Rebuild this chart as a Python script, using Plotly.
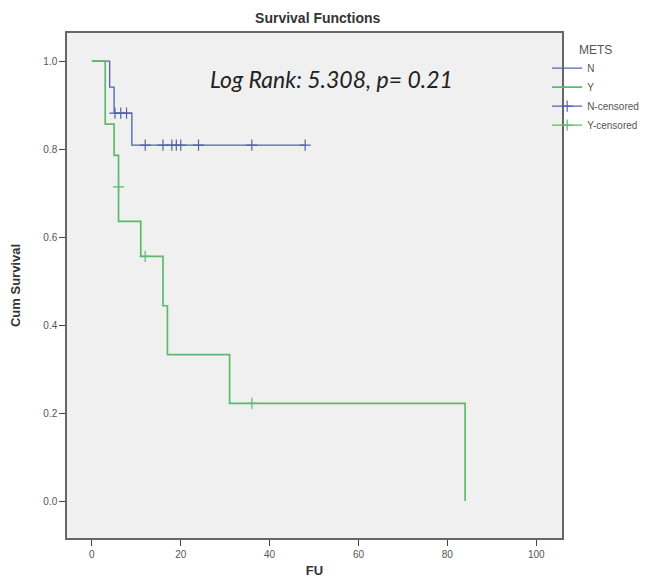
import plotly.graph_objects as go

# ---- data ----
n_time = [0, 4, 5, 9, 48]
n_surv = [1.0, 0.941, 0.882, 0.809, 0.809]
n_cens_time = [5.2, 6.5, 7.8, 12, 16, 18, 19, 20, 24, 36, 48]
n_cens_surv = [0.882, 0.882, 0.882, 0.809, 0.809, 0.809, 0.809, 0.809, 0.809, 0.809, 0.809]

y_time = [0, 3, 5, 6, 6, 11, 16, 17, 31, 84]
y_surv = [1.0, 0.857, 0.786, 0.714, 0.636, 0.556, 0.444, 0.333, 0.222, 0.0]
y_cens_time = [6, 12, 36]
y_cens_surv = [0.714, 0.556, 0.222]

x_ticks = [0, 20, 40, 60, 80, 100]
y_ticks = [0.0, 0.2, 0.4, 0.6, 0.8, 1.0]

BLUE = "#5262ae"
GREEN = "#5cba6a"
FONT = "Liberation Sans"


def gapped(vals):
    # put a gap between points so no connecting line is drawn (legend still shows line + marker)
    out = []
    for v in vals:
        out += [v, None]
    return out


fig = go.Figure()
fig.add_trace(go.Scatter(x=n_time, y=n_surv, mode="lines", line=dict(color=BLUE, width=1.3, shape="hv"), name="N"))
fig.add_trace(go.Scatter(x=y_time, y=y_surv, mode="lines", line=dict(color=GREEN, width=1.7, shape="hv"), name="Y"))
fig.add_trace(go.Scatter(x=gapped(n_cens_time), y=gapped(n_cens_surv), mode="lines+markers", connectgaps=False,
                         line=dict(color=BLUE, width=1.3),
                         marker=dict(symbol="cross-thin", size=8, line=dict(color=BLUE, width=1.2)), name="N-censored"))
fig.add_trace(go.Scatter(x=gapped(y_cens_time), y=gapped(y_cens_surv), mode="lines+markers", connectgaps=False,
                         line=dict(color=GREEN, width=1.3),
                         marker=dict(symbol="cross-thin", size=8, line=dict(color=GREEN, width=1.2)), name="Y-censored"))

fig.add_annotation(text="Log Rank: 5.308, p= 0.21", xref="paper", yref="paper", x=0.535, y=0.94,
                   showarrow=False, font=dict(family="Lato", size=23, color="#222", style="italic"))

fig.update_layout(
    width=655, height=578,
    margin=dict(l=67, r=93, t=33, b=40, autoexpand=False),
    paper_bgcolor="white", plot_bgcolor="#f0f0f0",
    font=dict(family=FONT, size=10, color="#555"),
    title=dict(text="<b>Survival Functions</b>", x=0.485, xanchor="center", y=0.968, yanchor="middle",
               font=dict(family=FONT, size=14, color="#333")),
    legend=dict(x=0.97, xanchor="left", y=0.99, yanchor="top", bgcolor="rgba(0,0,0,0)",
                title=dict(text="METS", side="top center", font=dict(size=12, color="#555")),
                font=dict(family=FONT, size=10, color="#555"), itemwidth=30, tracegroupgap=0),
    showlegend=True,
)
fig.update_xaxes(range=[-5.6, 105.8], tickvals=x_ticks, ticktext=[str(v) for v in x_ticks], automargin=False,
                 showgrid=False, zeroline=False, showline=True, mirror=True, linecolor="#666", linewidth=1.5,
                 ticks="outside", ticklen=6, tickcolor="#444",
                 title=dict(text="<b>FU</b>", font=dict(family=FONT, size=13, color="#333"), standoff=8))
fig.update_yaxes(range=[-0.084, 1.064], tickvals=y_ticks, ticktext=[f"{v:.1f}" for v in y_ticks], automargin=False,
                 showgrid=False, zeroline=False, showline=True, mirror=True, linecolor="#666", linewidth=1.5,
                 ticks="outside", ticklen=6, tickcolor="#444",
                 title=dict(text="<b>Cum Survival</b>", font=dict(family=FONT, size=13, color="#333"), standoff=20))

fig.write_html("out.html", config={"displayModeBar": False},
               post_script="document.body.style.margin='0';")
